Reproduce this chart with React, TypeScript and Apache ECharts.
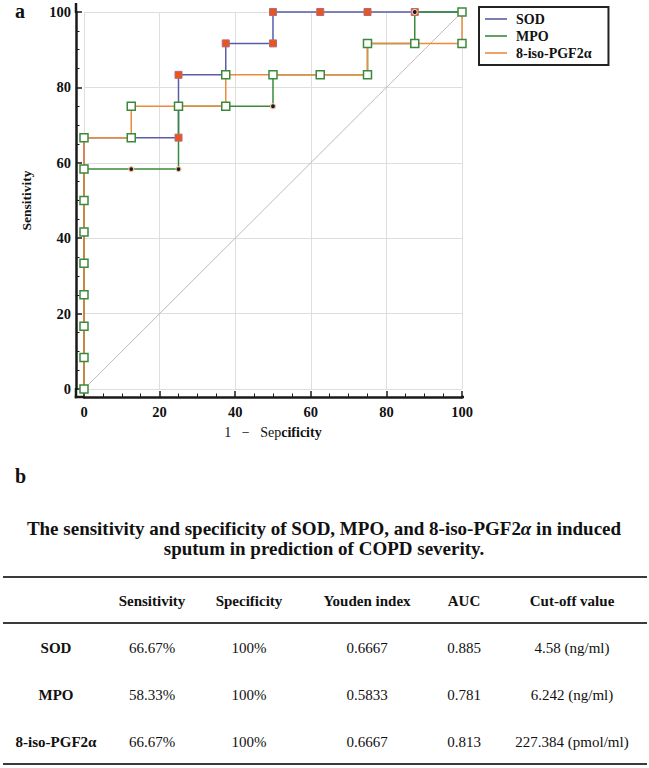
import React, { useEffect, useRef } from "react";
import * as echarts from "echarts";

const FONT = '"Liberation Serif", "Times New Roman", serif';

// ---- ROC data (x = 1 - specificity %, y = sensitivity %) ----
const seriesNames = ["SOD", "MPO", "8-iso-PGF2α"];
const lineColors = ["#5c5ca6", "#3b8a3b", "#ec8a3e"];

const sodFpr = [0, 0, 0, 0, 0, 0, 0, 0, 0, 12.5, 25, 25, 37.5, 37.5, 50, 50, 62.5, 75, 87.5, 100];
const sodTpr = [0, 8.33, 16.67, 25, 33.33, 41.67, 50, 58.33, 66.67, 66.67, 66.67, 83.33, 83.33, 91.67, 91.67, 100, 100, 100, 100, 100];

const mpoFpr = [0, 0, 0, 0, 0, 0, 0, 0, 12.5, 25, 25, 37.5, 50, 50, 62.5, 75, 75, 87.5, 87.5, 100];
const mpoTpr = [0, 8.33, 16.67, 25, 33.33, 41.67, 50, 58.33, 58.33, 58.33, 75, 75, 75, 83.33, 83.33, 83.33, 91.67, 91.67, 100, 100];

const isoFpr = [0, 0, 0, 0, 0, 0, 0, 0, 0, 12.5, 12.5, 25, 37.5, 37.5, 50, 62.5, 75, 75, 87.5, 100, 100];
const isoTpr = [0, 8.33, 16.67, 25, 33.33, 41.67, 50, 58.33, 66.67, 66.67, 75, 75, 75, 83.33, 83.33, 83.33, 83.33, 91.67, 91.67, 91.67, 100];

const diagX = [0, 100];
const diagY = [0, 100];

const axisTicks = [0, 20, 40, 60, 80, 100];

// ---- table data ----
const titleLines = [
  "The sensitivity and specificity of SOD, MPO, and 8-iso-PGF2{i|α} in induced",
  "sputum in prediction of COPD severity.",
];
const tableHeaders = ["", "Sensitivity", "Specificity", "Youden index", "AUC", "Cut-off value"];
const rowNames = ["SOD", "MPO", "8-iso-PGF2α"];
const sensitivity = ["66.67%", "58.33%", "66.67%"];
const specificity = ["100%", "100%", "100%"];
const youden = ["0.6667", "0.5833", "0.6667"];
const auc = ["0.885", "0.781", "0.813"];
const cutoff = ["4.58 (ng/ml)", "6.242 (ng/ml)", "227.384 (pmol/ml)"];

const zip = (xs: number[], ys: number[]) => xs.map((x, i) => [x, ys[i]]);

// layout constants
const GRID = { left: 84, top: 12, width: 378, height: 377 };
const AXIS_OFF = 8;
const COL_X = [56, 152, 249, 367, 464, 572];
const HEADER_Y = 601;
const ROW_Y = [648, 695, 742];
const RULE_Y = [577, 623, 764];

export default function App() {
  const ref = useRef<HTMLDivElement>(null);

  useEffect(() => {
    if (!ref.current) return;
    const chart = echarts.init(ref.current, undefined, { renderer: "svg" });

    const gLeft = GRID.left;
    const gTop = GRID.top;
    const gRight = GRID.left + GRID.width;
    const gBottom = GRID.top + GRID.height;
    const axX = gLeft - AXIS_OFF;
    const axY = gBottom + AXIS_OFF;
    const axisColor = "#1a1a1a";

    const txt = (text: string, x: number, y: number, size: number, bold: boolean, align = "center", rich?: any) => ({
      type: "text",
      x,
      y,
      silent: true,
      style: {
        text,
        fill: "#111",
        fontFamily: FONT,
        fontSize: size,
        fontWeight: bold ? "bold" : "normal",
        align,
        verticalAlign: "middle",
        ...(rich ? { rich } : {}),
      },
    });
    const hline = (y: number, x1: number, x2: number, w: number, c = "#333") => ({
      type: "line",
      silent: true,
      shape: { x1, y1: y, x2, y2: y },
      style: { stroke: c, lineWidth: w },
    });
    const vline = (x: number, y1: number, y2: number, w: number, c = "#333") => ({
      type: "line",
      silent: true,
      shape: { x1: x, y1, x2: x, y2 },
      style: { stroke: c, lineWidth: w },
    });

    const graphics: any[] = [];
    // axis corner / end extensions
    graphics.push(vline(axX, gBottom - 1, axY + 1.25, 2.5, axisColor));
    graphics.push(hline(axY, axX - 1.25, gLeft + 1, 2.5, axisColor));
    graphics.push(vline(axX, 3, gTop + 1, 2.5, axisColor));
    graphics.push(hline(axY, gRight - 1, gRight + 2, 2.5, axisColor));
    // panel labels
    graphics.push(txt("a", 15, 11, 20, true, "left"));
    graphics.push(txt("b", 15, 476, 20, true, "left"));
    // title
    const titleRich = {
      i: { fontFamily: FONT, fontSize: 19, fontWeight: "bold", fontStyle: "italic", fill: "#111" },
    };
    titleLines.forEach((t, i) => graphics.push(txt(t, 324, 528 + i * 20, 19, true, "center", titleRich)));
    // rules
    RULE_Y.forEach((y) => graphics.push(hline(y, 3, 647, 2, "#3a3a3a")));
    // header
    tableHeaders.forEach((h, i) => {
      if (h) graphics.push(txt(h, COL_X[i], HEADER_Y, 15, true));
    });
    const cols = [sensitivity, specificity, youden, auc, cutoff];
    rowNames.forEach((name, r) => {
      graphics.push(txt(name, COL_X[0], ROW_Y[r], 15, true));
      cols.forEach((col, c) => graphics.push(txt(col[r], COL_X[c + 1], ROW_Y[r], 15, false)));
    });

    const axisCommon = {
      type: "value",
      min: 0,
      max: 100,
      interval: 20,
      offset: AXIS_OFF,
      axisLine: { show: true, onZero: false, lineStyle: { color: axisColor, width: 2.5 } },
      axisTick: { show: true, inside: true, length: 6, lineStyle: { color: axisColor, width: 1.5 } },
      minorTick: { show: true, splitNumber: 4, length: 3.5, lineStyle: { color: axisColor, width: 1 } },
      splitLine: { show: true, lineStyle: { color: "#dedede", width: 1 } },
      axisLabel: {
        fontFamily: FONT,
        fontWeight: "bold",
        fontSize: 14.5,
        color: "#111",
        customValues: axisTicks,
      },
    };

    const option: any = {
      animation: false,
      backgroundColor: "#ffffff",
      grid: { left: GRID.left, top: GRID.top, width: GRID.width, height: GRID.height, containLabel: false },
      xAxis: {
        ...axisCommon,
        axisLabel: { ...axisCommon.axisLabel, margin: 7 },
        name: "{n|1   −   Sep}{b|cificity}",
        nameLocation: "middle",
        nameGap: 28,
        nameTextStyle: {
          rich: {
            n: { fontFamily: FONT, fontSize: 14, color: "#111" },
            b: { fontFamily: FONT, fontSize: 14, fontWeight: "bold", color: "#111" },
          },
        },
      },
      yAxis: {
        ...axisCommon,
        axisLabel: { ...axisCommon.axisLabel, margin: 5 },
        name: "Sensitivity",
        nameLocation: "middle",
        nameGap: 43,
        nameTextStyle: { fontFamily: FONT, fontSize: 13.5, fontWeight: "bold", color: "#111" },
      },
      legend: {
        orient: "vertical",
        left: 479,
        top: 7,
        borderColor: "#222",
        borderWidth: 2,
        padding: [5, 17, 5, 6],
        itemWidth: 22,
        itemHeight: 1.6,
        itemGap: 3,
        icon: "rect",
        textStyle: {
          fontFamily: FONT,
          fontSize: 14,
          fontWeight: "bold",
          color: "#111",
          lineHeight: 14,
          padding: [0, 0, 0, 4],
        },
        data: seriesNames.map((n, i) => ({
          name: n,
          itemStyle: { color: lineColors[i], borderWidth: 0 },
        })),
      },
      series: [
        {
          name: "diag",
          type: "line",
          data: zip(diagX, diagY),
          symbol: "none",
          silent: true,
          lineStyle: { color: "#c9b6b6", width: 1 },
          z: 1,
        },
        {
          name: seriesNames[0],
          type: "line",
          data: zip(sodFpr, sodTpr),
          clip: false,
          symbol: "rect",
          symbolSize: 7,
          showAllSymbol: true,
          lineStyle: { color: lineColors[0], width: 1.5 },
          itemStyle: { color: "#e8561d", borderColor: "#b46a7e", borderWidth: 1 },
        },
        {
          name: seriesNames[1],
          type: "line",
          data: zip(mpoFpr, mpoTpr),
          clip: false,
          symbol: "circle",
          symbolSize: 5,
          showAllSymbol: true,
          lineStyle: { color: lineColors[1], width: 1.5 },
          itemStyle: { color: "#141458", borderColor: "#f3c77c", borderWidth: 1.2 },
        },
        {
          name: seriesNames[2],
          type: "line",
          data: zip(isoFpr, isoTpr),
          clip: false,
          symbol: "rect",
          symbolSize: 8,
          showAllSymbol: true,
          lineStyle: { color: lineColors[2], width: 1.5 },
          itemStyle: { color: "#ffffff", borderColor: "#3b8a3b", borderWidth: 1.5 },
        },
      ],
      graphic: graphics,
    };

    chart.setOption(option);
    return () => chart.dispose();
  }, []);

  return (
    <div
      ref={ref}
      style={{ position: "absolute", left: 0, top: 0, width: 649, height: 768, background: "#fff" }}
    />
  );
}
